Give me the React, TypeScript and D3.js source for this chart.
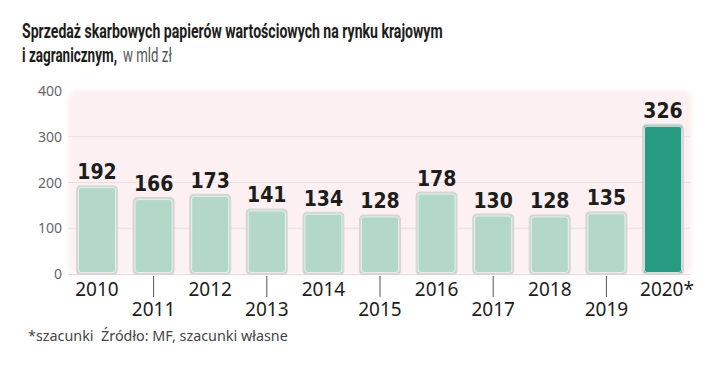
import React, { useLayoutEffect, useRef, useState } from "react";
import * as d3 from "d3";

const years = ["2010", "2011", "2012", "2013", "2014", "2015", "2016", "2017", "2018", "2019", "2020*"];
const values = [192, 166, 173, 141, 134, 128, 178, 130, 128, 135, 326];
const yTicks = [0, 100, 200, 300, 400];
const titleLine1 = "Sprzedaż skarbowych papierów wartościowych na rynku krajowym";
const titleLine2Bold = "i zagranicznym,";
const titleLine2Light = "w mld zł";
const footnote = "*szacunki\u00a0\u00a0Źródło: MF, szacunki własne";

function FitText({ x, y, width, children, ...rest }: any) {
  const ref = useRef<SVGTextElement>(null);
  const [k, setK] = useState(1);
  useLayoutEffect(() => {
    if (ref.current) {
      const w = ref.current.getComputedTextLength();
      if (w > 0) setK(width / w);
    }
  }, [width, children]);
  return (
    <text ref={ref} transform={`translate(${x},${y}) scale(${k},1)`} {...rest}>{children}</text>
  );
}

export default function App() {
  const W = 720, H = 377;
  const x = d3.scaleBand<string>().domain(years).range([68.7, 691.3]).paddingInner(0.293).paddingOuter(0.1465);
  const y = d3.scaleLinear().domain([0, 400]).range([274, 91]);
  const bw = x.bandwidth();
  return (
    <svg width={W} height={H} style={{ position: "absolute", left: 0, top: 0, background: "#fff" }}>
      <defs>
        <linearGradient id="bg" x1="0" y1="0" x2="0" y2="1">
          <stop offset="0" stopColor="#fdf0f2" />
          <stop offset="1" stopColor="#fcf1f3" />
        </linearGradient>
        <filter id="soft" x="-5%" y="-5%" width="110%" height="110%">
          <feGaussianBlur stdDeviation="2.5" />
        </filter>
      </defs>
      <FitText x={22} y={38} width={421} fontFamily="Roboto, sans-serif" fontWeight={700} fontSize={20} fill="#1d1d1b">{titleLine1}</FitText>
      <FitText x={22} y={62} width={95} fontFamily="Roboto, sans-serif" fontWeight={700} fontSize={20} fill="#1d1d1b">{titleLine2Bold}</FitText>
      <FitText x={123} y={62} width={49} fontFamily="Roboto, sans-serif" fontWeight={400} fontSize={20} fill="#555">{titleLine2Light}</FitText>
      <rect x={68} y={90} width={624} height={185} rx={9} fill="url(#bg)" filter="url(#soft)" />
      {yTicks.filter(t => t > 0 && t < 400).map(t => (
        <line key={t} x1={68} x2={690} y1={y(t)} y2={y(t)} stroke="#ecdde0" strokeWidth={1} />
      ))}
      <line x1={68} x2={690} y1={y(0) + 0.5} y2={y(0) + 0.5} stroke="#ead8dc" strokeWidth={1} />
      {yTicks.map(t => (
        <text key={t} x={62} y={y(t) + 5} textAnchor="end" fontFamily="'Noto Sans', sans-serif" fontSize={14} fill="#666">{t}</text>
      ))}
      {years.map((yr, i) => {
        const x0 = x(yr) as number;
        const cx = x0 + bw / 2;
        const odd = i % 2 === 1;
        const top = y(values[i]);
        return (
          <g key={yr}>
            <rect x={x0} y={top} width={bw} height={y(0) - top} rx={3.5}
              fill={i === years.length - 1 ? "#279a82" : "#b3d8ca"} stroke="#d6d6d6" strokeWidth={2} />
            <rect x={x0 + 1.5} y={top + 1.5} width={bw - 3} height={y(0) - top - 3} rx={2.5}
              fill="none" stroke="#f4f8f6" strokeWidth={1} opacity={0.8} />
            <text x={cx} y={top - 7} textAnchor="middle" fontFamily="'DejaVu Sans Condensed', 'DejaVu Sans', sans-serif"
              fontWeight={700} fontSize={21} fill="#1d1d1b">{values[i]}</text>
            {odd && <line x1={cx} x2={cx} y1={276} y2={297} stroke="#555" strokeWidth={1} />}
            <text x={cx + (i === years.length - 1 ? 4 : 0)} y={odd ? 316 : 296} textAnchor="middle" fontFamily="'Noto Sans', sans-serif"
              fontSize={19} fill="#1d1d1b">{yr}</text>
          </g>
        );
      })}
      <FitText x={28} y={341} width={260} fontFamily="'Noto Sans', sans-serif" fontSize={14} fill="#444">{footnote}</FitText>
    </svg>
  );
}
